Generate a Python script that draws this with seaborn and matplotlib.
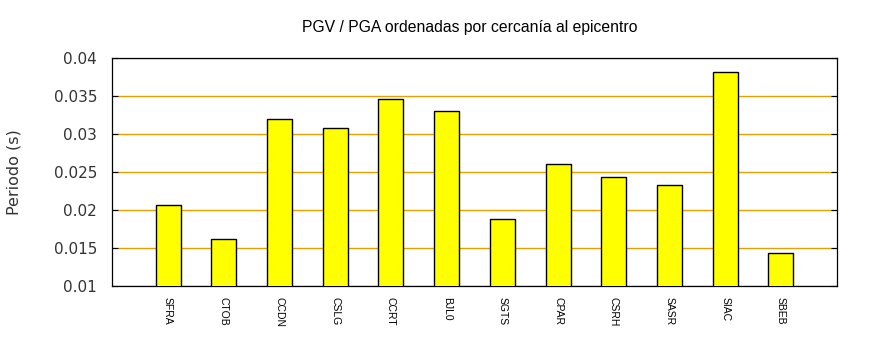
import matplotlib
matplotlib.use("Agg")
import matplotlib.pyplot as plt
import seaborn as sns
import pandas as pd

# Stations ordered by distance to the epicentre and their PGV/PGA period
estaciones = ["SFRA", "CTOB", "CCDN", "CSLG", "CCRT", "BJL0",
              "SGTS", "CPAR", "CSRH", "SASR", "SIAC", "SBEB"]
periodo = [0.02066, 0.01618, 0.03197, 0.03079, 0.03460, 0.03303,
           0.01882, 0.02605, 0.02434, 0.02329, 0.03816, 0.01434]
yticks = [0.01, 0.015, 0.02, 0.025, 0.03, 0.035, 0.04]
ytick_labels = ["0.01", "0.015", "0.02", "0.025", "0.03", "0.035", "0.04"]

df = pd.DataFrame({"estacion": estaciones, "periodo": periodo})

sns.set_style("white")
plt.rcParams["font.family"] = ["DejaVu Sans"]

fig = plt.figure(figsize=(8.7, 3.5), dpi=100)
ax = fig.add_axes([0.1291, 0.182, 0.9617 - 0.1291, 0.8334 - 0.182])

sns.barplot(data=df, x="estacion", y="periodo", ax=ax, color="#ffff00",
            saturation=1, edgecolor="black", linewidth=1.0, width=0.45,
            zorder=3)

ax.set_xlim(-1, 12)
ax.set_ylim(0.01, 0.04)
ax.set_yticks(yticks)
ax.set_yticklabels(ytick_labels, fontsize=11)

ax.yaxis.grid(True, color="#e6a000", linewidth=1.0, zorder=0)
ax.xaxis.grid(False)
ax.set_axisbelow(True)

ax.tick_params(axis="y", direction="in", length=4, width=0.8, color="black",
               left=True, right=True, pad=11, labelcolor="#333333")
ax.tick_params(axis="x", length=0, pad=8)
for lbl in ax.get_xticklabels():
    lbl.set_rotation(270)
    lbl.set_fontsize(7.5)
    lbl.set_fontfamily("Liberation Sans")
    lbl.set_color("black")
    lbl.set_va("top")
    lbl.set_ha("center")

for sp in ax.spines.values():
    sp.set_visible(True)
    sp.set_color("black")
    sp.set_linewidth(0.9)

ax.set_xlabel("")
ax.set_ylabel("Periodo (s)", fontsize=11.5, color="#333333", labelpad=23)
ax.set_title("PGV / PGA ordenadas por cercanía al epicentro",
             fontsize=11.3, fontfamily="Liberation Sans", color="black",
             pad=19, x=0.494)

fig.savefig("out.png", dpi=100)
